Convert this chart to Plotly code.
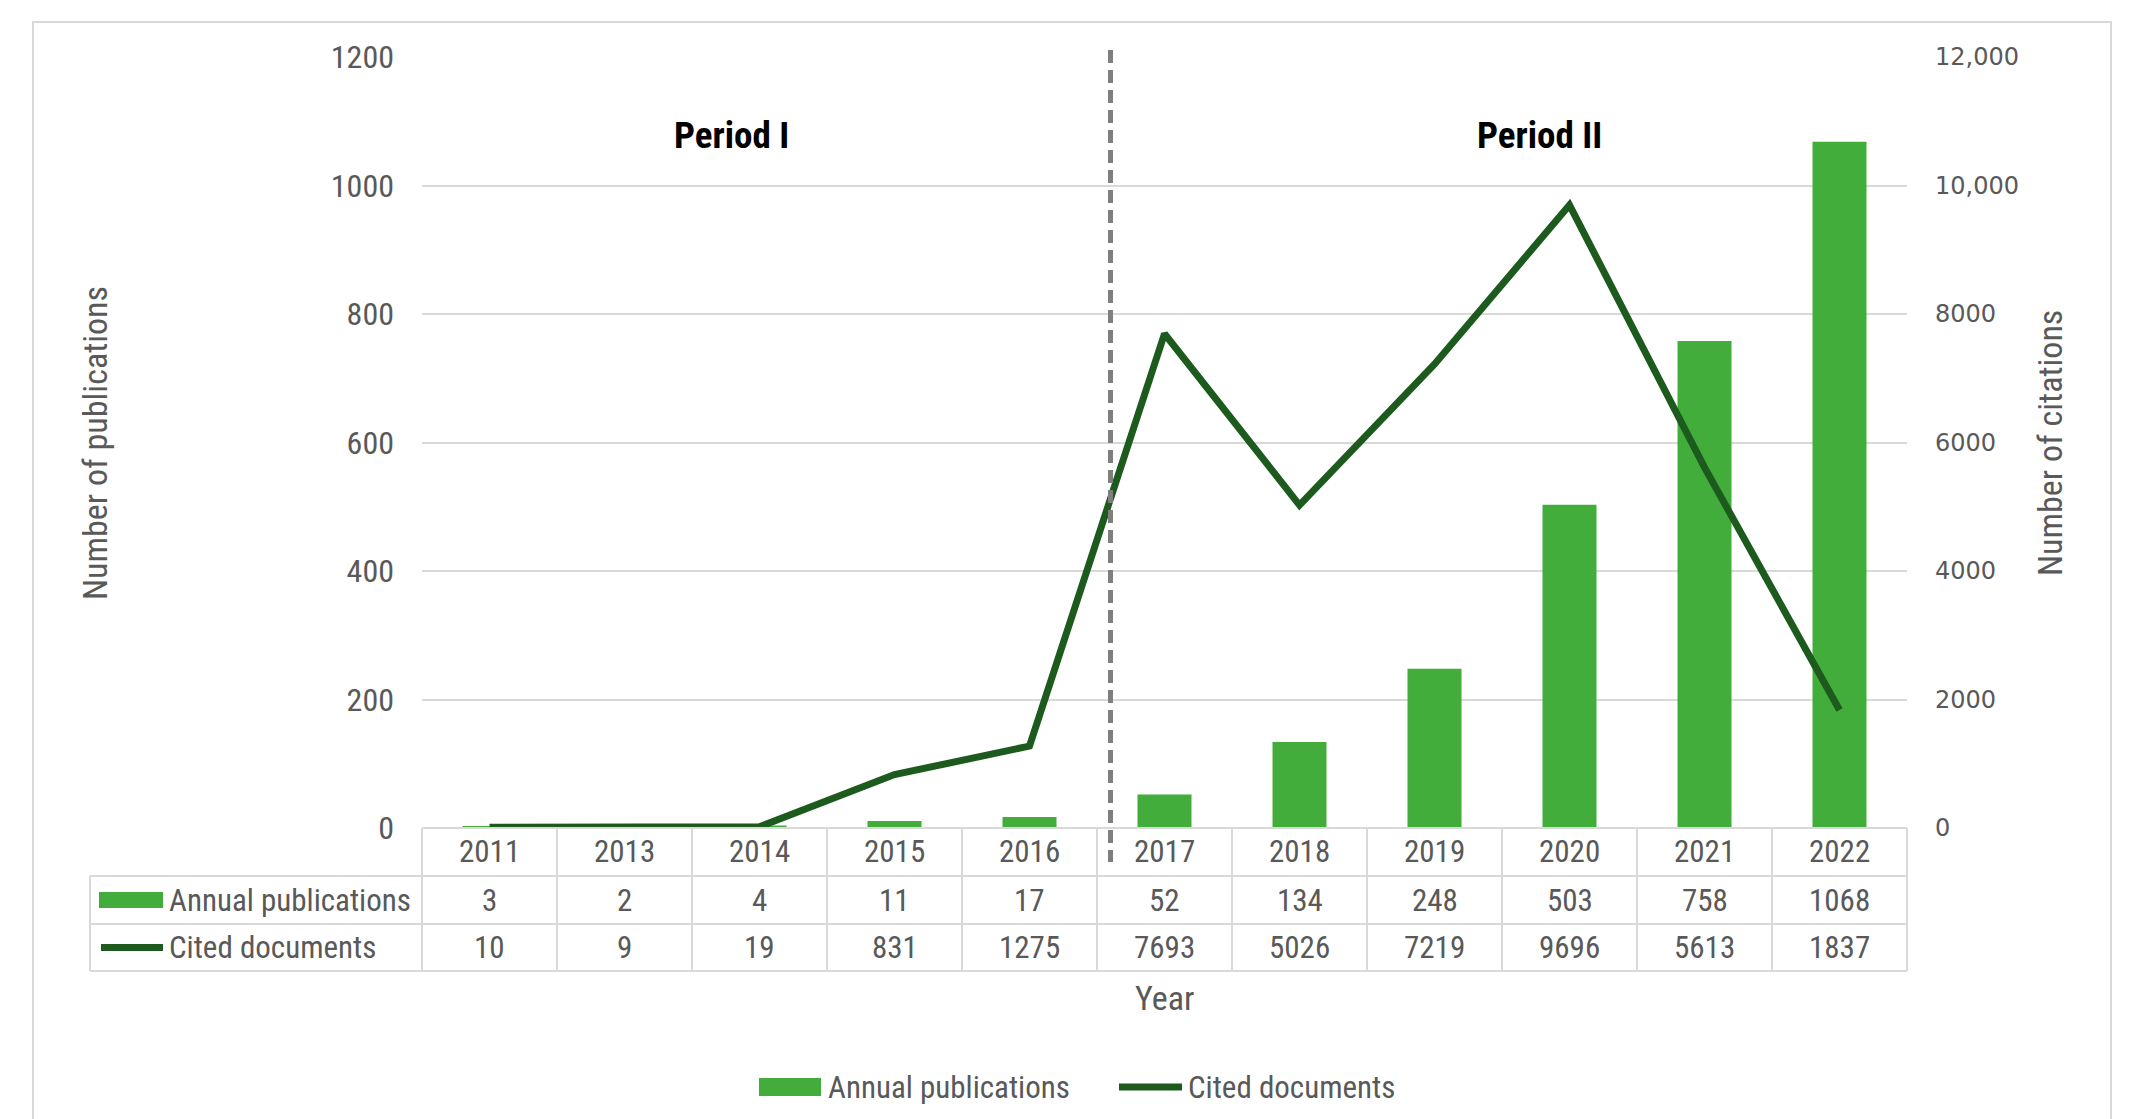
import plotly.graph_objects as go

# ---------------- data ----------------
years = ["2011", "2013", "2014", "2015", "2016", "2017", "2018", "2019", "2020", "2021", "2022"]
annual_publications = [3, 2, 4, 11, 17, 52, 134, 248, 503, 758, 1068]
cited_documents = [10, 9, 19, 831, 1275, 7693, 5026, 7219, 9696, 5613, 1837]
left_tickvals = [0, 200, 400, 600, 800, 1000, 1200]
right_tickvals = [0, 2000, 4000, 6000, 8000, 10000, 12000]
right_ticktext = ["0", "2000", "4000", "6000", "8000", "10,000", "12,000"]
series_names = ["Annual publications", "Cited documents"]
period_labels = ["Period I", "Period II"]
period_split_after = "2016"

# ---------------- style ----------------
W, H = 2136, 1119
L, R, T, B = 422, 1907, 57, 828          # plot area in pixels
PW, PH = R - L, B - T
BAR_COLOR = "#42AD3A"
LINE_COLOR = "#1D5A1D"
GRID = "#D9D9D9"
TXT = "#595959"
FONT = "Liberation Sans Narrow, Roboto Condensed, Arial Narrow, Open Sans, sans-serif"
NUMFONT = "DejaVu Sans, Verdana, sans-serif"


def px(xp):
    return (xp - L) / PW


def py(yp):
    return (B - yp) / PH


n = len(years)

fig = go.Figure()
fig.add_trace(go.Bar(x=list(range(n)), y=annual_publications, name=series_names[0],
                     marker=dict(color=BAR_COLOR, line=dict(width=0)), width=0.4,
                     yaxis="y", showlegend=False))
fig.add_trace(go.Scatter(x=list(range(n)), y=cited_documents, name=series_names[1],
                         mode="lines", line=dict(color=LINE_COLOR, width=7),
                         yaxis="y2", showlegend=False))

shapes = []
annotations = []


def label(x, y, text, size, color=TXT, xanchor="center", angle=0, xref="paper"):
    annotations.append(dict(x=x, xref=xref, y=y, yref="paper", text=text, showarrow=False,
                            xanchor=xanchor, yanchor="middle", textangle=angle,
                            font=dict(family=FONT, size=size, color=color)))


# outer frame
shapes.append(dict(type="rect", xref="paper", yref="paper", x0=px(33), x1=px(2111),
                   y0=py(1125), y1=py(22), line=dict(color=GRID, width=2), layer="below"))

# ---- data table under the axis ----
row_tops = [828, 876, 924, 971]
shapes.append(dict(type="line", xref="paper", yref="paper", x0=0, x1=1,
                   y0=py(row_tops[0]), y1=py(row_tops[0]), line=dict(color=GRID, width=2)))
for yp in row_tops[1:]:
    shapes.append(dict(type="line", xref="paper", yref="paper", x0=px(90), x1=1,
                       y0=py(yp), y1=py(yp), line=dict(color=GRID, width=2)))
for k in range(n + 1):
    shapes.append(dict(type="line", xref="paper", yref="paper", x0=k / n, x1=k / n,
                       y0=py(row_tops[0]), y1=py(row_tops[-1]), line=dict(color=GRID, width=2)))
shapes.append(dict(type="line", xref="paper", yref="paper", x0=px(90), x1=px(90),
                   y0=py(row_tops[1]), y1=py(row_tops[-1]), line=dict(color=GRID, width=2)))

row_centers = [(row_tops[i] + row_tops[i + 1]) / 2 for i in range(3)]
TFS = 31
for i, yr in enumerate(years):
    for r, val in enumerate([yr, annual_publications[i], cited_documents[i]]):
        label(i, py(row_centers[r]), str(val), TFS, xref="x")
# row headers with swatches
shapes.append(dict(type="rect", xref="paper", yref="paper", x0=px(99), x1=px(163),
                   y0=py(row_centers[1] + 8), y1=py(row_centers[1] - 8),
                   fillcolor=BAR_COLOR, line=dict(width=0)))
shapes.append(dict(type="line", xref="paper", yref="paper", x0=px(101), x1=px(163),
                   y0=py(row_centers[2]), y1=py(row_centers[2]),
                   line=dict(color=LINE_COLOR, width=7)))
for r, name in zip([1, 2], series_names):
    label(px(167), py(row_centers[r]), name, TFS, xanchor="left")

# ---- period divider ----
split_idx = years.index(period_split_after) + 0.6
xs = (split_idx + 0.5) / n
shapes.append(dict(type="line", xref="paper", yref="paper", x0=xs, x1=xs,
                   y0=py(50), y1=py(862), line=dict(color="#7F7F7F", width=5, dash="13px,7px")))
label(px(731), py(135), "<b>%s</b>" % period_labels[0], 37, color="black")
label(px(1539), py(135), "<b>%s</b>" % period_labels[1], 37, color="black")

# ---- axis titles ----
label(px(95), py(443), "Number of publications", 34, angle=-90)
label(px(2050), py(443), "Number of citations", 34, angle=-90)
label(0.5, py(998), "Year", 34)

# ---- custom legend ----
LY = 1087
shapes.append(dict(type="rect", xref="paper", yref="paper", x0=px(759), x1=px(821),
                   y0=py(LY + 9), y1=py(LY - 9), fillcolor=BAR_COLOR, line=dict(width=0)))
label(px(826), py(LY), series_names[0], TFS, xanchor="left")
shapes.append(dict(type="line", xref="paper", yref="paper", x0=px(1119), x1=px(1182),
                   y0=py(LY), y1=py(LY), line=dict(color=LINE_COLOR, width=7)))
label(px(1186), py(LY), series_names[1], TFS, xanchor="left")

fig.update_layout(
    width=W, height=H,
    margin=dict(l=L, r=W - R, t=T, b=H - B, pad=0),
    paper_bgcolor="white", plot_bgcolor="white",
    xaxis=dict(range=[-0.5, n - 0.5], showticklabels=False, showgrid=False, zeroline=False,
               showline=False, ticks="", fixedrange=True),
    yaxis=dict(range=[0, 1200], tickvals=left_tickvals, showgrid=True, gridcolor=GRID, gridwidth=2,
               zeroline=False, showline=False, ticks="", ticklabelstandoff=27,
               tickfont=dict(family=FONT, size=32, color=TXT)),
    yaxis2=dict(range=[0, 12000], tickvals=right_tickvals, ticktext=right_ticktext, overlaying="y",
                side="right", showgrid=False, zeroline=False, showline=False, ticks="",
                ticklabelstandoff=27, tickfont=dict(family=NUMFONT, size=24, color=TXT)),
    shapes=shapes,
    annotations=annotations,
    showlegend=False,
)

fig.write_html("out.html")
